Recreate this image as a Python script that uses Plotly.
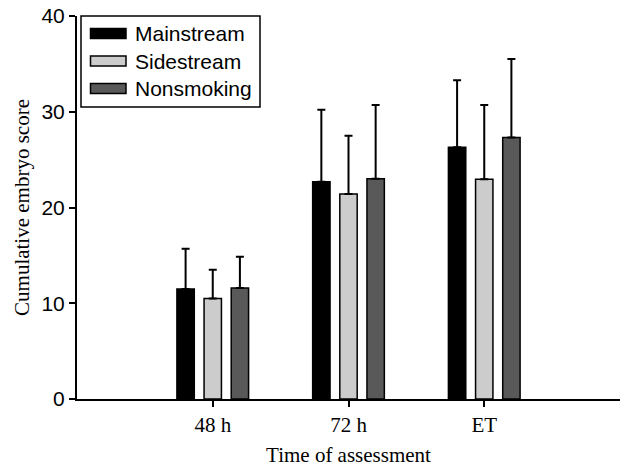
import plotly.graph_objects as go

categories = ["48 h", "72 h", "ET"]
series_names = ["Mainstream", "Sidestream", "Nonsmoking"]
mainstream = [11.5, 22.7, 26.3]
mainstream_err = [4.2, 7.5, 7.0]
sidestream = [10.5, 21.4, 22.95]
sidestream_err = [3.0, 6.1, 7.75]
nonsmoking = [11.6, 23.0, 27.3]
nonsmoking_err = [3.25, 7.7, 8.2]
colors = ["#000000", "#cccccc", "#595959"]

values = [mainstream, sidestream, nonsmoking]
errors = [mainstream_err, sidestream_err, nonsmoking_err]

W, H = 620, 467
ML, MR, MT, MB = 77, 0, 16, 68
PW, PH = W - ML - MR, H - MT - MB

def px_x(x):
    return (x - ML) / PW

def px_y(y):
    return (H - MB - y) / PH

serif = "Liberation Serif, Times New Roman, serif"
sans = "Liberation Sans, Arial, sans-serif"

fig = go.Figure()
for name, vals, errs, color in zip(series_names, values, errors, colors):
    fig.add_trace(go.Bar(
        name=name, x=categories, y=vals,
        marker=dict(color=color, line=dict(color="#000000", width=1.5)),
        error_y=dict(type="data", symmetric=False, array=errs,
                     arrayminus=[0] * len(errs),
                     color="#000000", thickness=2, width=4),
    ))

# legend drawn as a framed box with wide swatches
shapes = [dict(type="rect", xref="paper", yref="paper",
               x0=px_x(81), x1=px_x(260), y0=px_y(107), y1=px_y(16),
               line=dict(color="#000000", width=1.5), fillcolor="white", layer="above")]
annotations = []
row_y = [33.5, 61, 88.5]
for name, color, ry in zip(series_names, colors, row_y):
    shapes.append(dict(type="rect", xref="paper", yref="paper",
                       x0=px_x(90.5), x1=px_x(126), y0=px_y(ry + 5), y1=px_y(ry - 5),
                       line=dict(color="#000000", width=1.5), fillcolor=color, layer="above"))
    annotations.append(dict(xref="paper", yref="paper", x=px_x(133), y=px_y(ry),
                            xanchor="left", yanchor="middle", showarrow=False,
                            text=name, font=dict(family=sans, size=21, color="#000000")))

fig.update_layout(
    width=W, height=H,
    margin=dict(l=ML, r=MR, t=MT, b=MB, autoexpand=False),
    paper_bgcolor="white", plot_bgcolor="white",
    barmode="group", bargap=0.4, bargroupgap=0.36,
    showlegend=False,
    shapes=shapes, annotations=annotations,
    xaxis=dict(range=[-1, 3], showline=True, linecolor="#000000", linewidth=1.5,
               ticks="outside", ticklen=6, tickwidth=2, tickcolor="#000000",
               tickfont=dict(family=serif, size=21, color="#000000"),
               title=dict(text="Time of assessment",
                          font=dict(family=serif, size=21, color="#000000"),
                          standoff=13),
               showgrid=False, zeroline=False, automargin=False),
    yaxis=dict(range=[0, 40], tickvals=[0, 10, 20, 30, 40], showline=True,
               linecolor="#000000", linewidth=2,
               ticks="outside", ticklen=6, tickwidth=2, tickcolor="#000000",
               tickfont=dict(family=sans, size=21, color="#000000"),
               title=dict(text="Cumulative embryo score",
                          font=dict(family=serif, size=21, color="#000000"),
                          standoff=6),
               showgrid=False, zeroline=False, automargin=False),
)

fig.write_html("out.html", config={"displayModeBar": False},
               post_script="document.body.style.margin='0';document.body.style.overflow='hidden';")
